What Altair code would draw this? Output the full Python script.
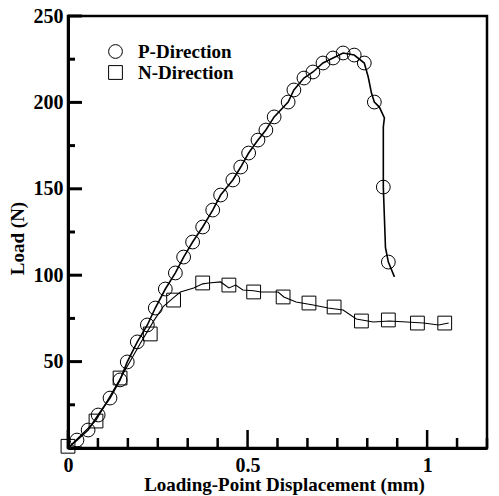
import altair as alt
import pandas as pd

# ---- data ----
p_line_x = [0, 0.025, 0.056, 0.084, 0.117, 0.145, 0.165, 0.193, 0.221, 0.243, 0.271, 0.299,
            0.322, 0.347, 0.375, 0.403, 0.425, 0.459, 0.481, 0.503, 0.529, 0.551, 0.574,
            0.613, 0.629, 0.657, 0.682, 0.710, 0.738, 0.766, 0.797, 0.825, 0.836, 0.845,
            0.853, 0.867, 0.881, 0.878, 0.878, 0.884, 0.892, 0.909]
p_line_y = [0, 4.6, 10.4, 19.1, 28.9, 39.4, 49.8, 61.4, 71.2, 81.0, 92.0, 101.3,
            110.5, 119.2, 127.9, 137.7, 146.4, 155.1, 162.6, 170.7, 178.2, 184.0, 191.6,
            200.2, 207.2, 214.1, 217.6, 222.8, 225.7, 228.6, 227.4, 222.8, 214.7, 205.4,
            200.2, 197.3, 191.0, 185.8, 151.0, 116.0, 107.6, 99.0]

p_mark_x = [0.025, 0.056, 0.084, 0.117, 0.145, 0.165, 0.193, 0.221, 0.243, 0.271, 0.299,
            0.322, 0.347, 0.375, 0.403, 0.425, 0.459, 0.481, 0.503, 0.529, 0.551, 0.574,
            0.613, 0.629, 0.657, 0.682, 0.710, 0.738, 0.766, 0.797, 0.825, 0.853, 0.878, 0.892]
p_mark_y = [4.6, 10.4, 19.1, 28.9, 39.4, 49.8, 61.4, 71.2, 81.0, 92.0, 101.3,
            110.5, 119.2, 127.9, 137.7, 146.4, 155.1, 162.6, 170.7, 178.2, 184.0, 191.6,
            200.2, 207.2, 214.1, 217.6, 222.8, 225.7, 228.6, 227.4, 222.8, 200.2, 151.0, 107.6]

n_line_x = [0, 0.078, 0.145, 0.200, 0.240, 0.266, 0.294, 0.313, 0.350, 0.375, 0.392, 0.425,
            0.448, 0.467, 0.487, 0.517, 0.537, 0.585, 0.601, 0.635, 0.683, 0.724, 0.766,
            0.803, 0.850, 0.895, 0.943, 0.990, 1.032, 1.060]
n_line_y = [0, 16.0, 40.0, 60.0, 74.0, 82.0, 87.0, 90.3, 92.6, 95.0, 95.5, 96.1,
            92.6, 94.3, 91.4, 91.0, 90.3, 90.3, 87.4, 84.5, 82.8, 81.0, 79.9,
            74.7, 72.9, 73.5, 72.9, 72.3, 71.2, 72.3]

n_mark_x = [0, 0.078, 0.145, 0.229, 0.294, 0.375, 0.448, 0.517, 0.599, 0.671, 0.741,
            0.817, 0.892, 0.973, 1.049]
n_mark_y = [1, 15.6, 40.5, 66.0, 85.6, 95.5, 94.3, 90.3, 87.4, 83.9, 81.6,
            73.5, 74.1, 72.3, 72.3]

series = ["P-Direction", "N-Direction"]
x_labels = [0, 0.5, 1]
y_labels = [50, 100, 150, 200, 250]
x_major = [0, 0.5, 1]
x_minor = [0.0833, 0.1667, 0.25, 0.3333, 0.4167, 0.5833, 0.6667, 0.75, 0.8333,
           0.9167, 1.0833, 1.1667]
y_major = [0, 50, 100, 150, 200, 250]
y_minor = [25, 75, 125, 175, 225]

FONT = "Liberation Serif"
W, H = 419, 432

p_line = pd.DataFrame({"x": p_line_x, "y": p_line_y, "i": range(len(p_line_x))})
n_line = pd.DataFrame({"x": n_line_x, "y": n_line_y, "i": range(len(n_line_x))})
marks = pd.DataFrame({
    "x": p_mark_x + n_mark_x,
    "y": p_mark_y + n_mark_y,
    "s": [series[0]] * len(p_mark_x) + [series[1]] * len(n_mark_x),
})

x_scale = alt.Scale(domain=[0, 1.1667], nice=False, zero=False)
y_scale = alt.Scale(domain=[0, 250], nice=False, zero=False)

x_axis = alt.Axis(values=x_labels, format="~g", ticks=False, grid=False,
                  domainWidth=3, domainColor="black",
                  labelFont=FONT, labelFontSize=20, labelFontWeight="bold",
                  labelColor="black", labelPadding=7, labelBaseline="top",
                  labelFlush=False,
                  title="Loading-Point Displacement (mm)", titleFont=FONT,
                  titleFontSize=19, titleFontWeight="bold", titleColor="black",
                  titleX=216, titleY=42, titleBaseline="alphabetic")
y_axis = alt.Axis(values=y_labels, ticks=False, grid=False,
                  domainWidth=3, domainColor="black",
                  labelFont=FONT, labelFontSize=20, labelFontWeight="bold",
                  labelColor="black", labelPadding=5, labelFlush=False,
                  title="Load (N)", titleFont=FONT, titleFontSize=19,
                  titleFontWeight="bold", titleColor="black",
                  titleX=-45, titleY=222, titleAngle=270, titleBaseline="alphabetic")

X = alt.X("x:Q", scale=x_scale, axis=x_axis)
Y = alt.Y("y:Q", scale=y_scale, axis=y_axis)

line_p = alt.Chart(p_line).mark_line(color="black", strokeWidth=1.6).encode(
    x=X, y=Y, order="i:Q")
line_n = alt.Chart(n_line).mark_line(color="black", strokeWidth=1.1).encode(
    x=X, y=Y, order="i:Q")

pts = alt.Chart(marks).mark_point(filled=False, color="black", size=190,
                                  strokeWidth=1, opacity=1).encode(
    x=X, y=Y,
    shape=alt.Shape("s:N", scale=alt.Scale(domain=series, range=["circle", "square"]),
                    legend=alt.Legend(title=None, orient="none", legendX=38, legendY=26,
                                      padding=0, symbolSize=190, symbolStrokeWidth=1,
                                      symbolStrokeColor="black", symbolFillColor="transparent",
                                      labelFont=FONT, labelFontSize=19,
                                      labelFontWeight="bold", labelColor="black",
                                      labelOffset=13, rowPadding=1)))

xt_major = alt.Chart(pd.DataFrame({"x": x_major})).mark_rule(
    color="black", strokeWidth=2.5).encode(x=X, y=alt.value(H), y2=alt.value(H - 18))
xt_minor = alt.Chart(pd.DataFrame({"x": x_minor})).mark_rule(
    color="black", strokeWidth=2.5).encode(x=X, y=alt.value(H), y2=alt.value(H - 10))
yt_major = alt.Chart(pd.DataFrame({"y": y_major})).mark_rule(
    color="black", strokeWidth=3).encode(y=Y, x=alt.value(0), x2=alt.value(14))
yt_minor = alt.Chart(pd.DataFrame({"y": y_minor})).mark_rule(
    color="black", strokeWidth=3).encode(y=Y, x=alt.value(0), x2=alt.value(7))

chart = alt.layer(line_p, line_n, pts, xt_major, xt_minor, yt_major, yt_minor).properties(
    width=W, height=H,
    autosize=alt.AutoSizeParams(type="none"),
    padding={"left": 68, "top": 16, "right": 12, "bottom": 48},
    background="white",
).configure_view(stroke="black", strokeWidth=2.5)

chart.save("out.html", embed_options={"renderer": "svg", "actions": False})
